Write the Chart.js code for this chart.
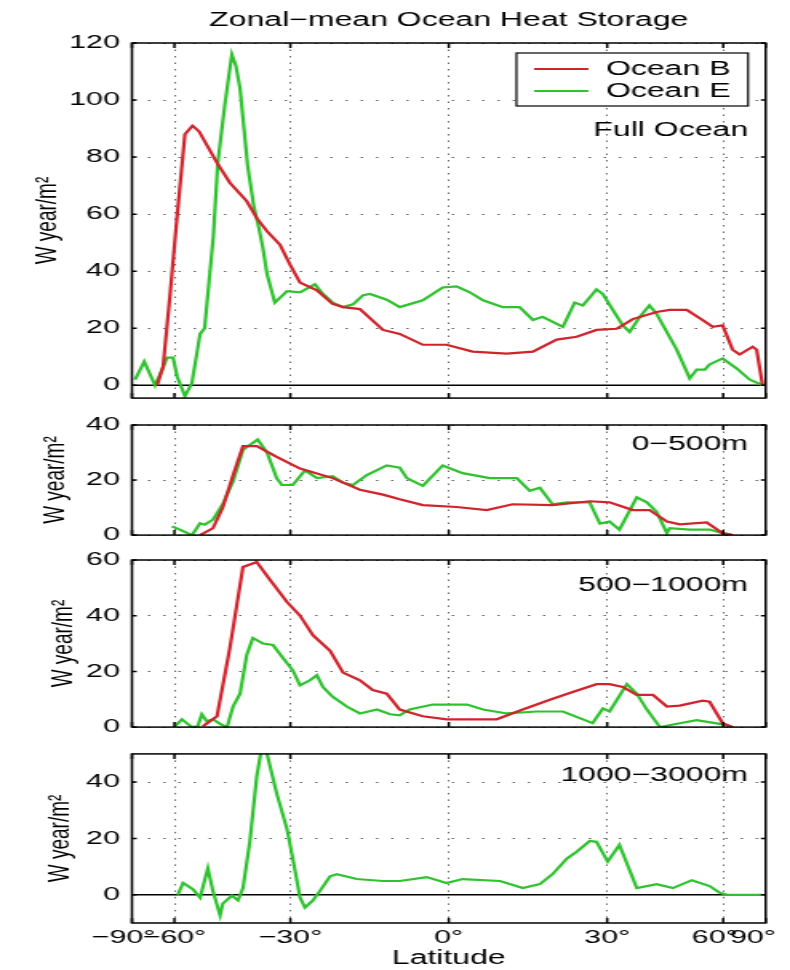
<!DOCTYPE html>
<html>
<head>
<meta charset="utf-8">
<title>Zonal-mean Ocean Heat Storage</title>
<script src="https://cdn.jsdelivr.net/npm/chart.js@4.4.1/dist/chart.umd.min.js"></script>
<style>
  html, body { margin: 0; background: #fff; }
  #wrap { position: relative; width: 790px; height: 970px; overflow: hidden; background: #fff; }
  #wrap canvas { position: absolute; left: 0; }
</style>
</head>
<body>
<div id="wrap">
  <canvas id="c1"></canvas>
  <canvas id="c2"></canvas>
  <canvas id="c3"></canvas>
  <canvas id="c4"></canvas>
</div>
<script>
// -------------------- Data --------------------
const mainTitle = "Zonal\u2212mean Ocean Heat Storage";
const xTickVals = [-90, -60, -30, 0, 30, 60, 90];
const xTickLabels = ["\u221290°", "\u221260°", "\u221230°", "0°", "30°", "60°", "90°"];

// Full ocean
const fullLatB = [-67, -64.4, -61.7, -59.1, -56.4, -54, -52, -47, -43.7, -39.6, -37.3, -35, -32.2, -30.1, -28, -24.6, -21.5, -19.5, -16.3, -12, -8.9, -4.7, -0.4, 4.3, 10.5, 15.4, 19.9, 23.8, 27.8, 32, 35.5, 41, 44.2, 48.7, 53.2, 56.4, 59.8, 63.6, 66.6, 73.5, 76.3, 82];
const fullB = [0, 6.5, 31, 58.6, 88, 91, 89, 78, 71, 64.5, 58.6, 54, 49.3, 42.4, 36, 33.3, 28.5, 27.4, 26.7, 19.4, 18, 14.2, 14.2, 11.8, 11.1, 11.8, 16, 17, 19.4, 19.8, 23.2, 25.7, 26.4, 26.4, 22.9, 20.5, 21, 12.5, 10.8, 13.5, 12.5, 0];
const fullLatE = [-82, -74, -68, -64.5, -62.8, -60.5, -59, -56.4, -54.2, -51.7, -50.4, -48, -46.8, -45, -44, -43.2, -42.2, -41.2, -39.4, -38, -36.8, -35.9, -35, -33.3, -30.7, -28, -25, -23.4, -21.5, -19.5, -17.6, -15.7, -14.4, -11.3, -8.9, -4.7, -1.1, 1.4, 3.8, 6.2, 9.8, 12.9, 15.4, 17.2, 21.1, 23.4, 25, 27.8, 29.1, 33.3, 34.8, 37.1, 39.3, 41, 46, 49.5, 51.5, 53.9, 55.4, 59.8, 65.3, 71.7, 82];
const fullE = [2, 8.3, 0, 6, 9.7, 9.7, 3, -3.8, 0.7, 18, 20, 52, 78, 98, 108, 116, 112, 104, 77, 63, 55, 48, 39, 29, 33, 32.6, 35.4, 32, 29, 27.4, 28.4, 31.6, 32, 30, 27.4, 29.8, 34.3, 34.7, 32.6, 29.8, 27.4, 27.4, 22.9, 24, 20.5, 29, 28, 33.6, 32, 21, 18.7, 24, 28, 25, 12.5, 2.4, 5.5, 5.5, 7.3, 9.4, 5.9, 2, 0];

// 0-500m
const upperLatB = [-51.7, -48.1, -45.5, -42.9, -40.5, -37.3, -32.9, -28, -21.5, -16.3, -12, -8.9, -4.7, 1.4, 6.9, 11.6, 19.1, 26.4, 30.5, 35.5, 39.3, 43.5, 46.8, 54.5, 59.8, 63.6];
const upperB = [0, 2.5, 10, 21.8, 32.3, 32.3, 28.4, 24.2, 20.7, 16.5, 14.7, 13, 10.9, 10.2, 9.1, 11.2, 10.9, 12.3, 11.9, 9.1, 9.1, 4.9, 3.9, 4.6, 0.7, 0];
const upperLatE = [-60.9, -58.1, -54.2, -51.7, -50.4, -48.1, -45.5, -42.9, -40.5, -37.1, -35, -32.9, -31.8, -29.5, -27, -24.6, -21.5, -19.5, -17.6, -15, -11.3, -8.9, -7.6, -4.7, -1.1, 2.5, 7.4, 12.4, 14.8, 16.7, 19.1, 21.9, 26.4, 28.5, 30.5, 32.6, 36.4, 38.7, 41, 43.5, 44.2, 49.5, 55.4, 59.8, 63.6];
const upperE = [3.2, 2, 0, 4.3, 3.8, 5.6, 11.2, 19.6, 31, 34.7, 30, 20.7, 18.2, 18.2, 23.5, 20.7, 21.4, 19, 18.2, 21.8, 25.3, 24.5, 20.7, 17.9, 25.3, 22.5, 20.7, 20.7, 16.1, 17.2, 11.2, 11.9, 11.9, 4.2, 4.9, 2, 13.7, 11.9, 8.4, 0.7, 2.5, 2, 2, 0.7, 0];

// 500-1000m
const midLatB = [-50.9, -47, -43.7, -40.5, -37.3, -34.4, -30.7, -28, -25.4, -22, -19.5, -16.3, -13.9, -11.3, -8.9, -4.7, -0.4, 8.7, 13.5, 18.6, 23, 27.8, 30.5, 33.3, 36.4, 40.1, 43.5, 46.8, 53.2, 55.4, 59.8, 63.6];
const midB = [0.3, 3.9, 28.4, 57.5, 59.3, 53, 44.9, 40, 33, 27.4, 19.6, 16.8, 13.3, 12, 6.3, 3.9, 2.8, 2.8, 6.3, 9.8, 12.6, 15.4, 15.4, 14.4, 11.6, 11.6, 7.4, 7.7, 9.5, 9.1, 1.4, 0];
const midLatE = [-59.8, -57.4, -54.2, -52.4, -51.2, -49.8, -48.1, -46, -44.4, -42.9, -41.2, -39.6, -38.2, -35.9, -33.7, -31.6, -29.5, -28, -26, -24.6, -23.4, -21.5, -18.8, -16.3, -13.1, -10.7, -8.9, -7.1, -2.9, 3.3, 6.2, 10.5, 16.1, 21.1, 24.4, 27, 29.1, 30.5, 34.2, 36.4, 38.7, 41.8, 46.8, 51.5, 59.8, 63.6];
const midE = [0.3, 2.8, 0, 0.3, 4.6, 2.1, 2.8, 1, 0, 7.4, 12, 26, 32, 30, 29.5, 24.9, 20.4, 15, 16.8, 18.6, 14.4, 10.9, 7.4, 4.9, 6.3, 4.6, 4.2, 6.3, 8.1, 8.1, 6.3, 4.9, 5.6, 5.6, 3.2, 1.4, 6.7, 5.6, 15.4, 12, 6.3, 0, 1.4, 2.5, 1, 0];

// 1000-3000m (Ocean E only)
const deepLatE = [-58.8, -57, -53.9, -51.7, -49.5, -48.1, -46.2, -45.5, -43.2, -41.7, -40.5, -38.9, -37.3, -36.2, -35, -32.9, -30.7, -29.5, -28, -27, -25.4, -24, -22, -20.7, -16.9, -12, -8.9, -4, -0.4, 2.5, 9.3, 13.5, 16.7, 19.1, 21.9, 23.8, 26.4, 27.8, 30.1, 32.6, 36.4, 41, 45, 50.1, 55.4, 58.8, 61.3, 82];
const deepE = [0, 4.2, 2, -1, 9.4, 1.4, -7.3, -3.1, -0.3, -2, 2.4, 18.8, 42, 52, 50, 36, 23.3, 12.9, -1, -4.5, -2, 1.4, 6.6, 7.3, 5.6, 4.9, 4.9, 6.3, 4.2, 5.6, 4.9, 2.4, 3.8, 7.3, 12.9, 15.3, 19.1, 18.8, 11.8, 17.7, 2.4, 3.8, 2.4, 5.2, 3.1, 0.7, 0, 0];

const fullTicks = [0, 20, 40, 60, 80, 100, 120];
const upperTicks = [0, 20, 40];
const midTicks = [0, 20, 40, 60];
const deepTicks = [0, 20, 40];


// -------------------- Look --------------------
// the reference lettering is wide: draw on a narrower canvas and let CSS stretch it
const STRETCH = 1.6;
const IW = Math.round(790 / STRETCH);
const FONT = "'Liberation Sans', Arial, Helvetica, sans-serif";
const RED = "#d0232b";
const GREEN = "#2fc22f";
const GRID = "#666";
const INK = "#000";
// crowded edge labels sit a little left of their ticks in the original
const xLabelNudge = [2, 0, 0, 0, 0, 2, 3];

Chart.defaults.font.family = FONT;
Chart.defaults.color = INK;


// -------------------- Latitude axis, linear in sin(lat) --------------------
class SineScale extends Chart.LinearScale {
  static id = "sine";
  _sinRange() {
    const r = Math.PI / 180;
    return [Math.sin(this.min * r), Math.sin(this.max * r)];
  }
  getPixelForValue(value) {
    if (value === null || value === undefined) return NaN;
    const [a, b] = this._sinRange();
    return this.getPixelForDecimal((Math.sin(value * Math.PI / 180) - a) / (b - a));
  }
  getValueForPixel(pixel) {
    const [a, b] = this._sinRange();
    const s = a + this.getDecimalForPixel(pixel) * (b - a);
    return Math.asin(Math.max(-1, Math.min(1, s))) * 180 / Math.PI;
  }
}
Chart.register(SineScale);


// -------------------- Box, inner ticks, zero line, labels, legend --------------------
const frame = {
  id: "frame",
  beforeDatasetsDraw(chart) {
    const { ctx, chartArea: a, scales: { y } } = chart;
    if (y.min < 0 && y.max > 0) {
      const y0 = y.getPixelForValue(0);
      ctx.save();
      ctx.strokeStyle = "#000";
      ctx.lineWidth = 1.5;
      ctx.beginPath();
      ctx.moveTo(a.left, y0);
      ctx.lineTo(a.right, y0);
      ctx.stroke();
      ctx.restore();
    }
  },
  afterDraw(chart, args, opts) {
    const { ctx, chartArea: a, scales: { x, y } } = chart;
    ctx.save();
    ctx.strokeStyle = INK;
    ctx.lineWidth = 1.5;
    ctx.beginPath();
    x.ticks.forEach((t) => {
      const px = x.getPixelForValue(t.value);
      ctx.moveTo(px, a.top); ctx.lineTo(px, a.top + 5);
      ctx.moveTo(px, a.bottom); ctx.lineTo(px, a.bottom - 5);
    });
    y.ticks.forEach((t) => {
      const py = y.getPixelForValue(t.value);
      ctx.moveTo(a.left, py); ctx.lineTo(a.left + 3, py);
      ctx.moveTo(a.right, py); ctx.lineTo(a.right - 3, py);
    });
    ctx.stroke();
    ctx.strokeRect(a.left, a.top, a.right - a.left, a.bottom - a.top);

    ctx.font = `20px ${FONT}`;
    ctx.fillStyle = INK;
    ctx.textAlign = "right";
    ctx.textBaseline = "middle";
    ctx.fillText(opts.label, a.right - 11, a.top + opts.labelY);

    if (opts.legend) {
      const sets = chart.data.datasets;
      const tw = Math.max(...sets.map((d) => ctx.measureText(d.label).width));
      const pad = 11, lineLen = 34, gap = 11, rowH = 22;
      const w = pad + lineLen + gap + tw + pad;
      const h = 53;
      const bx = a.right - 11 - w, by = a.top + 10;
      ctx.fillStyle = "#fff";
      ctx.fillRect(bx, by, w, h);
      ctx.lineWidth = 1.2;
      ctx.strokeStyle = INK;
      ctx.strokeRect(bx, by, w, h);
      sets.forEach((d, i) => {
        const cy = by + 16 + i * rowH;
        ctx.strokeStyle = d.borderColor;
        ctx.lineWidth = 2;
        ctx.beginPath();
        ctx.moveTo(bx + pad, cy);
        ctx.lineTo(bx + pad + lineLen, cy);
        ctx.stroke();
        ctx.fillStyle = INK;
        ctx.textAlign = "left";
        ctx.fillText(d.label, bx + pad + lineLen + gap, cy);
      });
    }
    ctx.restore();
  }
};


// -------------------- Panels --------------------
const panels = [
  { id: "c1", top: 0, height: 417, padTop: 0, padBottom: 15, yMin: -4.5, yMax: 120, yTicks: fullTicks,
    label: "Full Ocean", labelY: 87.5, titleGap: 18.6, title: true, legend: true,
    series: [
      { name: "Ocean B", color: RED, lat: fullLatB, val: fullB },
      { name: "Ocean E", color: GREEN, lat: fullLatE, val: fullE }
    ] },
  { id: "c2", top: 400, height: 154, padTop: 25, padBottom: 15, yMin: 0, yMax: 40, yTicks: upperTicks,
    label: "0\u2212500m", labelY: 19.5, titleGap: 23,
    series: [
      { name: "Ocean B", color: RED, lat: upperLatB, val: upperB },
      { name: "Ocean E", color: GREEN, lat: upperLatE, val: upperE }
    ] },
  { id: "c3", top: 540, height: 206, padTop: 20, padBottom: 15, yMin: 0, yMax: 60, yTicks: midTicks,
    label: "500\u22121000m", labelY: 25, titleGap: 28,
    series: [
      { name: "Ocean B", color: RED, lat: midLatB, val: midB },
      { name: "Ocean E", color: GREEN, lat: midLatE, val: midE }
    ] },
  { id: "c4", top: 735, height: 235, padTop: 17, padBottom: 0, yMin: -10, yMax: 50, yTicks: deepTicks,
    label: "1000\u22123000m", labelY: 21.5, titleGap: 26, xAxis: true,
    series: [
      { name: "Ocean E", color: GREEN, lat: deepLatE, val: deepE }
    ] }
];

function makePanel(p) {
  const canvas = document.getElementById(p.id);
  canvas.width = IW;
  canvas.height = p.height;
  canvas.style.top = p.top + "px";
  canvas.style.width = "790px";
  canvas.style.height = p.height + "px";
  const showX = !!p.xAxis;

  return new Chart(canvas, {
    type: "line",
    data: {
      datasets: p.series.map((s) => ({
        label: s.name,
        data: s.lat.map((la, i) => ({ x: la, y: s.val[i] })),
        borderColor: s.color,
        borderWidth: 2.2,
        pointRadius: 0,
        tension: 0,
        fill: false
      }))
    },
    options: {
      responsive: false,
      animation: false,
      devicePixelRatio: 1,
      events: [],
      layout: { padding: { left: 0, right: IW - 766 / STRETCH, top: p.padTop, bottom: p.padBottom } },
      plugins: {
        legend: { display: false },
        tooltip: { enabled: false },
        title: {
          display: !!p.title,
          text: mainTitle,
          color: INK,
          fullSize: false,
          font: { size: 20, weight: "normal" },
          padding: { top: 8, bottom: 11 }
        },
        frame: { label: p.label, labelY: p.labelY, legend: !!p.legend }
      },
      scales: {
        x: {
          type: "sine",
          min: -90,
          max: 90,
          afterBuildTicks: (s) => { s.ticks = xTickVals.map((v) => ({ value: v })); },
          afterFit: (s) => { s.height = showX ? 47 : 0; s.paddingLeft = 0; s.paddingRight = 0; },
          grid: { color: GRID, lineWidth: 1, drawTicks: false },
          border: { display: false, dash: [1.5, 5] },
          ticks: {
            display: showX,
            autoSkip: false,
            maxRotation: 0,
            minRotation: 0,
            padding: 3,
            color: INK,
            font: { size: 19 },
            callback: (v, i) => xTickLabels[i] + " ".repeat(xLabelNudge[i])
          },
          title: { display: showX, text: "Latitude", color: INK, font: { size: 20 }, padding: { top: 0, bottom: 0 } }
        },
        y: {
          min: p.yMin,
          max: p.yMax,
          afterBuildTicks: (s) => { s.ticks = p.yTicks.map((v) => ({ value: v })); },
          afterFit: (s) => { s.width = 132 / STRETCH; },
          grid: { color: GRID, lineWidth: 1, drawTicks: false },
          border: { display: false, dash: [1.5, 8] },
          ticks: { padding: 7.5, color: INK, font: { size: 19 } },
          title: { display: true, text: "W year/m²", color: INK, font: { size: 19 }, padding: { top: p.titleGap, bottom: 0 } }
        }
      }
    },
    plugins: [frame]
  });
}

panels.forEach(makePanel);
</script>
</body>
</html>
